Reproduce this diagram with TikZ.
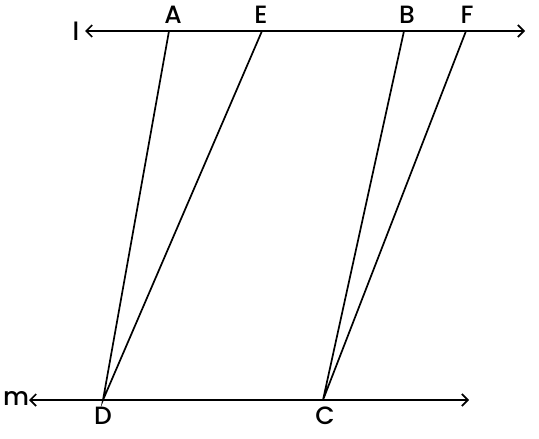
\documentclass[tikz,border=0pt]{standalone}
\usepackage{fontspec}
\setmainfont{Poppins}[BoldFont={Poppins Medium}]
\usetikzlibrary{arrows.meta}
\begin{document}
\begin{tikzpicture}[x=1pt,y=-1pt,
  ln/.style={line width=1.7pt},
  arr/.style={ln,{Straight Barb[length=6pt,width=12pt]}-{Straight Barb[length=6pt,width=12pt]}},
  lab/.style={font=\fontsize{25}{25}\selectfont\bfseries,inner sep=0pt}]
\useasboundingbox (0,0) rectangle (539,439);
\coordinate (l1) at (85,31);
\coordinate (l2) at (525,31);
\coordinate (m1) at (29,400);
\coordinate (m2) at (469,400);
\coordinate (A) at (169,31);
\coordinate (E) at (262,31);
\coordinate (B) at (404,31);
\coordinate (F) at (466,31);
\coordinate (D) at (103,400);
\coordinate (C) at (323,400);
\draw[arr] (l1) -- (l2);
\draw[arr] (m1) -- (m2);
\draw[ln] (A) -- (D) -- (E);
\draw[ln] (B) -- (C) -- (F);
\node[lab] (tA) at (173,15) {A};
\node[lab] (tE) at (261,15) {E};
\node[lab] (tB) at (407,15) {B};
\node[lab] (tF) at (467,15) {F};
\node[lab] (tD) at (103,416) {D};
\node[lab] (tC) at (325,416) {C};
\node[lab] (tl) at (76,31) {l};
\node[lab] (tm) at (16,398) {m};
\end{tikzpicture}
\end{document}
